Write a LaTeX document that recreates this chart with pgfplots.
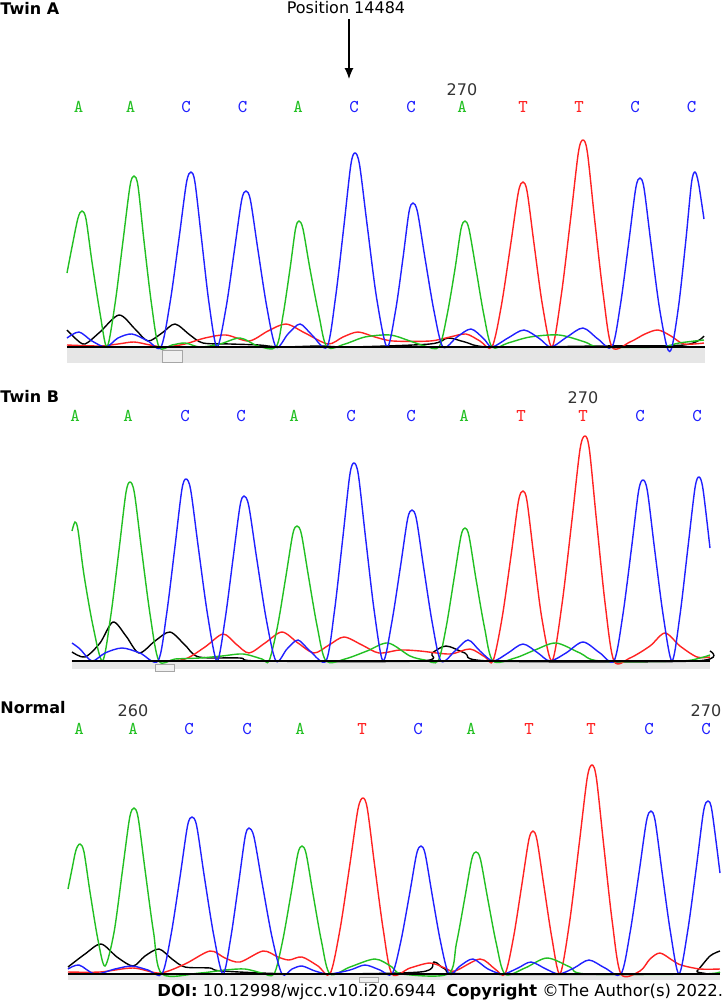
\documentclass[border=0pt]{standalone}
\usepackage{pgfplots}
\pgfplotsset{compat=1.18}
\usepackage{fontspec}
\usetikzlibrary{arrows.meta}
\setmainfont{DejaVu Sans}
\definecolor{cg}{HTML}{22C022}
\definecolor{cb}{HTML}{2020FF}
\definecolor{cr}{HTML}{FF2222}
\definecolor{bar}{HTML}{E6E6E6}
\newcommand\lab{\fontsize{8bp}{9.6bp}\selectfont}
\newcommand\bas{\ttfamily\fontsize{9bp}{10bp}\selectfont}

% one axis per panel; 1 px of the original = 0.5bp, y = signal above baseline
\pgfplotsset{
  panel/.style={x=0.5bp, y=0.5bp, xmin=0, xmax=723, hide axis, clip=false, anchor=south west},
  tr/.style={smooth, line width=0.7bp, mark=none},
}

\begin{document}
\begin{tikzpicture}
\path[use as bounding box, fill=white] (0,0) rectangle (361.5bp,-503.5bp);

% ---------------- Twin A ----------------
\begin{axis}[panel, at={(0,-180.5bp)}, ymin=-14, ymax=347]
\addplot[fill=bar, draw=none] coordinates {(67,0) (705,0) (705,-16) (67,-16)} -- cycle;
\addplot[fill=bar!60, draw=gray!70, line width=0.4bp] coordinates {(162,-3) (182,-3) (182,-15) (162,-15)} -- cycle;
\addplot[black, tr] coordinates {(67,17) (76,8) (85,3) (100,15) (119,32) (135,18) (148,6) (162,14) (175,23) (190,12) (203,4) (230,3) (259,2) (280,0) (320,1) (350,0) (430,3) (448,9) (465,5) (490,0) (600,1) (684,2) (704,11)};
\addplot[cr, tr] coordinates {(67,2) (100,1) (118,3) (134,5) (150,2) (165,0) (185,3) (205,9) (226,12) (249,6) (268,16) (286,23) (305,14) (328,3) (343,10) (358,15) (375,10) (393,6) (430,6) (450,10) (466,13) (480,6) (492,0) (501.3,41) (510.6,102) (518.4,155) (523,165) (527.2,155) (534.2,102) (542.6,41) (552,0) (561.3,52) (570.6,128) (578.4,194.6) (583,207) (587.4,194.6) (594.6,128) (603.3,52) (612,0) (630,5) (645,13) (658,17) (671,11) (684,3) (704,4)};
\addplot[cg, tr] coordinates {(67,74) (72,100) (78,129) (82,136) (86,128) (92,85) (100,34) (107,0) (115,43) (123,106) (130,161) (134,171) (138,161) (144,106) (151.5,43) (159,0) (172,2) (185,4) (200,0) (220,3) (240,9) (258,1) (276,0) (283,31.5) (290,78) (295.5,118) (299,126) (303,118) (310,78) (319,31.5) (327,0) (345,3) (365,10) (390,12) (410,6) (425,1) (439,0) (447,31.5) (455,78) (461,118) (465,126) (469,118) (476,78) (484,31.5) (492,0) (508,4) (530,10) (559,12) (585,5) (600,0) (660,0) (679,4) (704,7)};
\addplot[cb, tr] coordinates {(67,9) (79,15) (92,6) (106,0) (118,9) (132,13) (148,6) (161,0) (170,44) (179,108.5) (186.5,164.5) (191,175) (195,164.5) (201.5,108.5) (209,44) (217,0) (226,39) (234.4,96.7) (241.6,146.6) (246,156) (250.5,146.6) (258,96.7) (267,39) (276,0) (288,13) (300,23) (312,12) (327,0) (335.4,48.5) (343.8,120) (350.8,182) (355,194) (359.6,182) (367.4,120) (376.7,48.5) (387,0) (395.5,36) (403,89) (409,135) (413,144) (417.5,135) (425,89) (434,36) (443,0) (457,10) (471,18) (484,8) (492,0) (508,9) (524,17) (540,8) (551,0) (567,10) (583,19) (598,8) (612,0) (620.4,42) (628.8,105) (635.8,159) (640,169) (644,159) (650.8,105) (659,42) (667,0) (672,0) (679,44) (686,108) (691.5,164) (695,175) (698.5,164) (704,128)};
\addplot[black, line width=1bp] coordinates {(67,0) (705,0)};
\node[anchor=west, inner sep=0, font=\lab\bfseries] at (axis cs:0,339) {Twin A};
\node[inner sep=0, font=\lab] at (axis cs:346,339) {Position 14484};
\draw[-{Latex[length=5.5bp,width=4.5bp]}, line width=0.6bp] (axis cs:349,328) -- (axis cs:349,268);
\node[inner sep=0, font=\lab, text=black!80] at (axis cs:462,257) {270};
\node[text=cg, font=\bas] at (axis cs:78.5,240) {A};
\node[text=cg, font=\bas] at (axis cs:130.7,240) {A};
\node[text=cb, font=\bas] at (axis cs:186,240) {C};
\node[text=cb, font=\bas] at (axis cs:242.5,240) {C};
\node[text=cg, font=\bas] at (axis cs:298,240) {A};
\node[text=cb, font=\bas] at (axis cs:354,240) {C};
\node[text=cb, font=\bas] at (axis cs:411,240) {C};
\node[text=cg, font=\bas] at (axis cs:462,240) {A};
\node[text=cr, font=\bas] at (axis cs:523,240) {T};
\node[text=cr, font=\bas] at (axis cs:579,240) {T};
\node[text=cb, font=\bas] at (axis cs:635,240) {C};
\node[text=cb, font=\bas] at (axis cs:691.5,240) {C};
\end{axis}

% ---------------- Twin B ----------------
\begin{axis}[panel, at={(0,-337.5bp)}, ymin=-14, ymax=291]
\addplot[fill=bar, draw=none] coordinates {(72,0) (710,0) (710,-8) (72,-8)} -- cycle;
\addplot[fill=bar!60, draw=gray!70, line width=0.4bp] coordinates {(155,-3) (174,-3) (174,-10) (155,-10)} -- cycle;
\addplot[black, tr] coordinates {(72,9) (85,4) (100,18) (113,39) (126,25) (139,8) (155,20) (170,29) (185,16) (199,4) (240,3) (260,0) (420,0) (432,8) (446,15) (465,8) (490,0) (695,0) (710,10)};
\addplot[cr, tr] coordinates {(72,0) (160,0) (185,2) (205,14) (223,27) (236,17) (249,8) (265,18) (282,29) (298,18) (314,8) (329,16) (344,24) (362,16) (379,8) (400,11) (420,10) (450,7) (470,12) (485,4) (493,0) (502,42.5) (511,105) (518.5,160) (523,170) (527,160) (533.8,105) (541.9,42.5) (552,0) (561.9,56) (571.8,139.5) (580,211.5) (585,225) (589.4,211.5) (596.6,139.5) (605.3,56) (614,0) (630,3) (650,15) (665,28) (680,15) (697,4) (710,4)};
\addplot[cg, tr] coordinates {(72,130) (75,139) (78,131) (84,86) (93,35) (102.5,0) (110.75,45) (119,111) (125.9,168) (130,179) (134.4,168) (141.6,111) (150.3,45) (159,0) (175,2) (200,3) (222,5) (243,7) (262,2) (269,0) (277.4,34) (285.8,84) (292.8,127) (297,135) (301.4,127) (308.6,84) (317.3,34) (326,0) (345,2) (367,10) (388,18) (410,5) (425,1) (438,0) (446,33) (454,82) (461,125) (465,133) (469,125) (476,82) (484.6,33) (493,0) (515,3) (535,11) (556,18) (580,8) (600,0) (680,0) (700,3) (710,6)};
\addplot[cb, tr] coordinates {(72,18) (80,12) (92,0) (105,8) (122,13) (140,8) (158,0) (166.4,45.5) (174.8,113) (181.8,171) (186,182) (190.7,171) (198.4,113) (207.7,45.5) (217,0) (225,41) (233,102) (240,155) (244,165) (248.8,155) (256.8,102) (266.4,41) (276,0) (287,12) (298,21) (310,10) (326,0) (334.4,49.5) (342.8,123) (349.8,186) (354,198) (358.4,186) (365.6,123) (374.3,49.5) (383,0) (391.7,38) (400.4,94) (407.6,142) (412,151) (416.4,142) (423.6,94) (432.3,38) (441,0) (455,10) (468,21) (480,10) (493,0) (508,8) (523,17) (538,8) (550,0) (566,8) (583,19) (600,8) (614,0) (622.7,45) (631.4,112) (638.6,170) (643,181) (647.4,170) (654.6,112) (663.3,45) (672,0) (680,46) (688,114) (695,173) (699,184) (703,172) (710,113)};
\addplot[black, line width=1bp] coordinates {(72,0) (710,0)};
\node[anchor=west, inner sep=0, font=\lab\bfseries] at (axis cs:0,265) {Twin B};
\node[inner sep=0, font=\lab, text=black!80] at (axis cs:583,263) {270};
\node[text=cg, font=\bas] at (axis cs:75,245) {A};
\node[text=cg, font=\bas] at (axis cs:128,245) {A};
\node[text=cb, font=\bas] at (axis cs:185,245) {C};
\node[text=cb, font=\bas] at (axis cs:241,245) {C};
\node[text=cg, font=\bas] at (axis cs:294,245) {A};
\node[text=cb, font=\bas] at (axis cs:351,245) {C};
\node[text=cb, font=\bas] at (axis cs:411,245) {C};
\node[text=cg, font=\bas] at (axis cs:464,245) {A};
\node[text=cr, font=\bas] at (axis cs:521,245) {T};
\node[text=cr, font=\bas] at (axis cs:583,245) {T};
\node[text=cb, font=\bas] at (axis cs:640,245) {C};
\node[text=cb, font=\bas] at (axis cs:697,245) {C};
\end{axis}

% ---------------- Normal ----------------
\begin{axis}[panel, at={(0,-503.5bp)}, ymin=-33, ymax=284]
\addplot[fill=bar, draw=none] coordinates {(68,0) (720,0) (720,-6) (68,-6)} -- cycle;
\addplot[fill=bar!60, draw=gray!70, line width=0.4bp] coordinates {(359,-3) (378,-3) (378,-8) (359,-8)} -- cycle;
\addplot[black, tr] coordinates {(68,7) (85,20) (101,30) (117,17) (133,8) (145,18) (159,25) (172,15) (185,7) (210,6) (222,3) (300,0) (420,2) (434,12) (445,5) (470,0) (690,0) (697,3) (710,18) (720,23)};
\addplot[cr, tr] coordinates {(68,2) (100,2) (133,6) (160,1) (185,10) (210,23) (225,16) (240,12) (263,23) (278,17) (289,14) (302,17) (318,8) (330,0) (339.9,44) (349.8,109) (358,165) (363,176) (367.4,165) (374.6,109) (383.3,44) (392,0) (410,6) (430,11) (445,6) (455,3) (480,15) (495,5) (505,0) (513.4,36) (521.8,89) (528.8,134) (533,143) (537,134) (543.8,89) (551.9,36) (560,0) (569.6,52) (579.2,130) (587.2,196) (592,209) (596.4,196) (603.6,130) (612.3,52) (621,0) (640,3) (650,15) (660,21) (672,14) (681,9) (700,5) (720,5)};
\addplot[cg, tr] coordinates {(68,85) (72,105) (76,124) (80,130) (84,122) (90,82) (98,34) (105,8) (114,41.5) (122.4,103) (129.6,156) (134,166) (138.2,156) (145.2,103) (153.6,41.5) (162,0) (200,1) (225,4) (245,5) (262,1) (274,0) (282.4,32) (290.8,79) (297.8,120) (302,128) (306.2,120) (313.2,79) (321.6,32) (330,0) (350,7) (375,15) (392,7) (402,0) (448,0) (456.4,30.5) (464.8,76) (471.8,115) (476,122) (480.4,115) (487.6,76) (496.3,30.5) (505,0) (525,6) (547,16) (570,7) (587,0) (700,0) (720,2)};
\addplot[cb, tr] coordinates {(68,5) (79,9) (95,0) (115,5) (132,8) (148,4) (162,0) (171,39) (180,97) (187.5,148) (192,157) (196.7,148) (204.4,97) (213.7,39) (223,0) (230.8,36.5) (238.6,90.5) (245.1,137) (249,146) (254,137) (262.2,90.5) (272.1,36.5) (282,0) (292,5) (302,8) (315,3) (329,0) (350,4) (365,9) (380,4) (392,0) (400.7,32) (409.4,79) (416.6,120) (421,128) (425.2,120) (432.2,79) (440.6,32) (449,0) (460,8) (473,15) (488,5) (503,0) (518,6) (531,12) (546,5) (559,0) (574,6) (589,14) (605,6) (621,0) (630,41) (639,101) (646.5,153) (651,163) (655.2,153) (662.2,101) (670.6,41) (679,0) (687.7,43) (696.4,107) (703.6,163) (708,173) (712,163) (720,101)};
\addplot[black, line width=1bp] coordinates {(68,0) (720,0)};
\node[anchor=west, inner sep=0, font=\lab\bfseries] at (axis cs:0,266) {Normal};
\node[inner sep=0, font=\lab, text=black!80] at (axis cs:133,263) {260};
\node[inner sep=0, font=\lab, text=black!80] at (axis cs:706,263) {270};
\node[text=cg, font=\bas] at (axis cs:79,245) {A};
\node[text=cg, font=\bas] at (axis cs:133,245) {A};
\node[text=cb, font=\bas] at (axis cs:189,245) {C};
\node[text=cb, font=\bas] at (axis cs:247,245) {C};
\node[text=cg, font=\bas] at (axis cs:300,245) {A};
\node[text=cr, font=\bas] at (axis cs:362,245) {T};
\node[text=cb, font=\bas] at (axis cs:418,245) {C};
\node[text=cg, font=\bas] at (axis cs:471,245) {A};
\node[text=cr, font=\bas] at (axis cs:529,245) {T};
\node[text=cr, font=\bas] at (axis cs:591,245) {T};
\node[text=cb, font=\bas] at (axis cs:649,245) {C};
\node[text=cb, font=\bas] at (axis cs:706,245) {C};
\node[anchor=west, inner sep=0, font=\fontsize{8.2bp}{9.8bp}\selectfont] at (axis cs:157,-18) {\textbf{DOI:} 10.12998/wjcc.v10.i20.6944\ \ \textbf{Copyright} ©The Author(s) 2022.};
\end{axis}
\end{tikzpicture}
\end{document}
